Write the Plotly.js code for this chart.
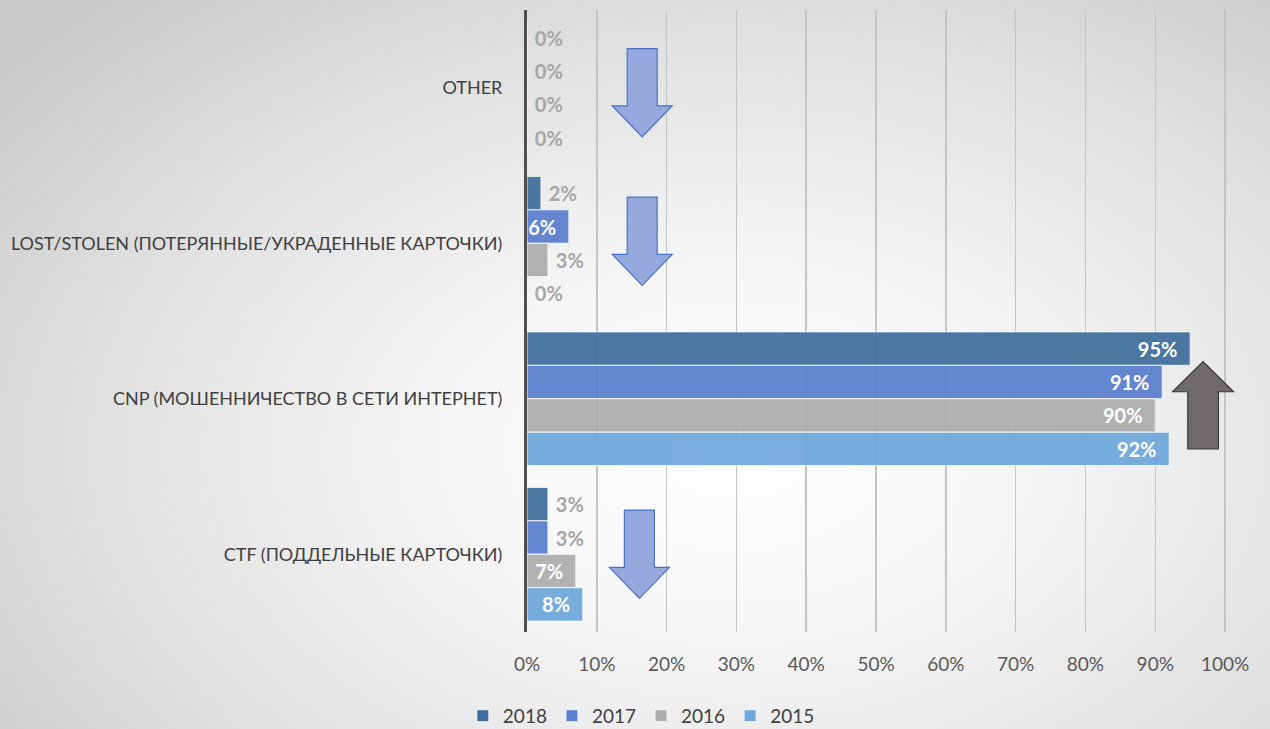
<!DOCTYPE html>
<html>
<head>
<meta charset="utf-8">
<script src="https://cdn.plot.ly/plotly-3.0.1.min.js"></script>
<style>
html,body{margin:0;padding:0;}
body{width:1270px;height:729px;background:radial-gradient(ellipse 75% 85% at 58% 62%, #ffffff 0%, #f6f6f6 30%, #e2e2e2 65%, #c9c9c9 100%);}
#chart{width:1270px;height:729px;}
</style>
</head>
<body>
<div id="chart"></div>
<script>
const categories = ["OTHER", "LOST/STOLEN (ПОТЕРЯННЫЕ/УКРАДЕННЫЕ КАРТОЧКИ)", "CNP (МОШЕННИЧЕСТВО В СЕТИ ИНТЕРНЕТ)", "CTF (ПОДДЕЛЬНЫЕ КАРТОЧКИ)"];
const seriesNames = ["2018", "2017", "2016", "2015"];
const v2018 = [0, 2, 95, 3];
const v2017 = [0, 6, 91, 3];
const v2016 = [0, 3, 90, 7];
const v2015 = [0, 0, 92, 8];
const xTicks = [0, 10, 20, 30, 40, 50, 60, 70, 80, 90, 100];

const values = [v2018, v2017, v2016, v2015];
const colors = ["#3f6e9c", "#5a7fcf", "#adadad", "#6ea8dc"];
const FONT = "Lato, 'Open Sans', sans-serif";

const traces = values.map((vals, i) => ({
  type: "bar",
  orientation: "h",
  name: seriesNames[i],
  y: categories,
  x: vals,
  marker: {color: colors[i], opacity: 0.93, line: {color: "rgba(255,255,255,0.85)", width: 1}},
  text: vals.map(v => v + "%"),
  texttemplate: vals.map(v => v >= 5 ? "%{text}\u00a0\u00a0" : "\u00a0%{text}"),
  textposition: vals.map(v => v >= 5 ? "inside" : "outside"),
  insidetextanchor: "end",
  constraintext: "none",
  cliponaxis: false,
  insidetextfont: {family: FONT, size: 20, color: "#ffffff", weight: "bold"},
  outsidetextfont: {family: FONT, size: 20, color: "#a6a6a6", weight: "bold"},
  hoverinfo: "x+y"
}));

// decorative arrows (x in %, y in category units)
function downArrow(cx, yTop, yTip) {
  const sw = 2.15, hw = 4.3, hh = 0.2;
  const yh = yTip - hh;
  return `M${cx - sw},${yTop} L${cx + sw},${yTop} L${cx + sw},${yh} L${cx + hw},${yh} L${cx},${yTip} L${cx - hw},${yh} L${cx - sw},${yh} Z`;
}
function upArrow(cx, yTip, yBottom) {
  const sw = 2.2, hw = 4.37, hh = 0.194;
  const yh = yTip + hh;
  return `M${cx},${yTip} L${cx + hw},${yh} L${cx + sw},${yh} L${cx + sw},${yBottom} L${cx - sw},${yBottom} L${cx - sw},${yh} L${cx - hw},${yh} Z`;
}
const shapes = [
  {type: "path", xref: "x", yref: "y", path: downArrow(16.5, -0.252, 0.316), fillcolor: "#96a9de", line: {color: "#4a72c4", width: 1.2}},
  {type: "path", xref: "x", yref: "y", path: downArrow(16.5, 0.703, 1.271), fillcolor: "#96a9de", line: {color: "#4a72c4", width: 1.2}},
  {type: "path", xref: "x", yref: "y", path: downArrow(16.1, 2.716, 3.284), fillcolor: "#96a9de", line: {color: "#4a72c4", width: 1.2}},
  {type: "path", xref: "x", yref: "y", path: upArrow(96.85, 1.761, 2.323), fillcolor: "#6f6b6b", line: {color: "#3a3a3a", width: 1.2}}
];

const layout = {
  width: 1270, height: 729,
  paper_bgcolor: "rgba(0,0,0,0)",
  plot_bgcolor: "rgba(0,0,0,0)",
  margin: {l: 527, r: 24, t: 10, b: 97},
  barmode: "group",
  bargap: 0.14,
  bargroupgap: 0,
  font: {family: FONT, color: "#404040"},
  xaxis: {
    range: [0, 103],
    tickvals: xTicks,
    ticktext: xTicks.map(t => t + "%"),
    showgrid: true, gridcolor: "#c4c4c4", gridwidth: 1.5,
    zeroline: false, showline: false, ticks: "",
    tickfont: {family: FONT, size: 19, color: "#595959"},
    ticklabelstandoff: 19,
    fixedrange: true
  },
  yaxis: {
    type: "category",
    autorange: "reversed",
    showline: true, linecolor: "#505050", linewidth: 3,
    showgrid: false, zeroline: false, ticks: "",
    tickfont: {family: FONT, size: 18, color: "#404040"},
    ticklabelstandoff: 18,
    fixedrange: true
  },
  legend: {
    orientation: "h",
    xref: "container", yref: "container",
    x: 0.505, xanchor: "center",
    y: 0.018, yanchor: "middle",
    font: {family: FONT, size: 19, color: "#404040"},
    bgcolor: "rgba(0,0,0,0)",
    itemwidth: 30
  },
  shapes: shapes,
  showlegend: true
};

Plotly.newPlot("chart", traces, layout, {displayModeBar: false, staticPlot: true});
</script>
</body>
</html>
